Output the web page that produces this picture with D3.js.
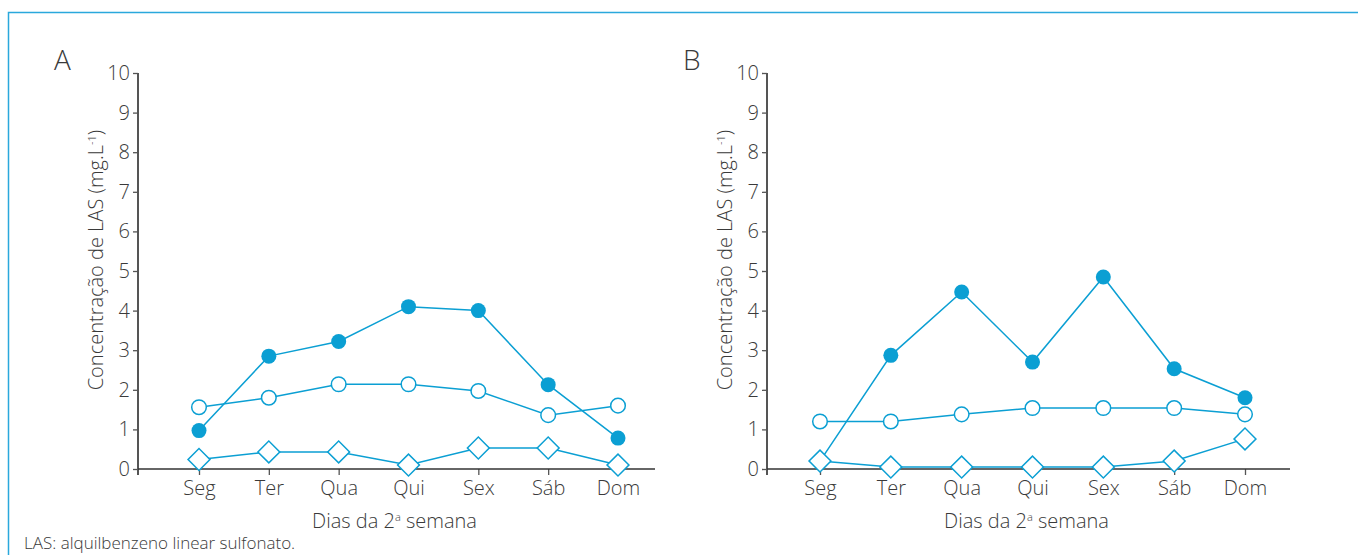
<!DOCTYPE html>
<html>
<head>
<meta charset="utf-8">
<script src="https://cdn.jsdelivr.net/npm/d3@7"></script>
<style>
  html, body { margin: 0; padding: 0; background: #fff; }
  svg { display: block; }
  text { font-family: "Open Sans", Lato, "DejaVu Sans", sans-serif; font-weight: 300; fill: #3a3a3a; }
</style>
</head>
<body>
<svg id="chart" width="1358" height="555"></svg>
<script>
// Days of the second sampling week
const days = ["Seg", "Ter", "Qua", "Qui", "Sex", "Sáb", "Dom"];
const yTicks = [0, 1, 2, 3, 4, 5, 6, 7, 8, 9, 10];

// Panel A: LAS concentration (mg/L)
const aFilled = [0.97, 2.85, 3.22, 4.1, 4.0, 2.13, 0.78];
const aOpen   = [1.56, 1.8, 2.14, 2.14, 1.97, 1.36, 1.6];
const aDiamond = [0.24, 0.43, 0.43, 0.1, 0.53, 0.53, 0.1];

// Panel B: LAS concentration (mg/L)
const bFilled = [0.2, 2.87, 4.47, 2.7, 4.85, 2.53, 1.8];
const bOpen   = [1.2, 1.2, 1.38, 1.54, 1.54, 1.54, 1.38];
const bDiamond = [0.2, 0.05, 0.05, 0.05, 0.05, 0.2, 0.76];

const blue = "#0b9fd3";
const axisColor = "#555";
const svg = d3.select("#chart");

// outer frame
svg.append("path")
  .attr("d", "M8.5,555 L8.5,12.5 L1358,12.5")
  .attr("fill", "none").attr("stroke", "#2aa8dc").attr("stroke-width", 1.5);

const panels = [
  { label: "A", x0: 138, first: 199, last: 618, xEnd: 655, series: [aFilled, aOpen, aDiamond] },
  { label: "B", x0: 767, first: 820, last: 1245, xEnd: 1290, series: [bFilled, bOpen, bDiamond] }
];

const yTop = 73, yBottom = 469;
const y = d3.scaleLinear().domain([0, 10]).range([yBottom, yTop]);

panels.forEach(p => {
  const g = svg.append("g");
  const x = d3.scalePoint().domain(days).range([p.first, p.last]);

  // panel letter
  g.append("text").attr("x", p.x0 - 84).attr("y", 70)
    .style("font-size", "28px").text(p.label);

  // y axis
  const yAxis = g.append("g").attr("transform", `translate(${p.x0},0)`)
    .call(d3.axisLeft(y).tickValues(yTicks).tickSize(5).tickSizeOuter(0).tickPadding(3));
  yAxis.select(".domain").remove();
  yAxis.selectAll(".tick line").attr("stroke", axisColor).attr("stroke-width", 1.3);
  yAxis.selectAll(".tick text").style("font-size", "20px")
    .style("font-family", "'Open Sans', Lato, sans-serif").style("font-weight", 300)
    .attr("fill", "#3a3a3a");
  g.append("line").attr("x1", p.x0).attr("x2", p.x0).attr("y1", yTop).attr("y2", yBottom + 6)
    .attr("stroke", axisColor).attr("stroke-width", 2);

  // x axis
  const xAxis = g.append("g").attr("transform", `translate(0,${yBottom})`)
    .call(d3.axisBottom(x).tickSize(6).tickSizeOuter(0).tickPadding(6));
  xAxis.select(".domain").remove();
  xAxis.selectAll(".tick line").attr("stroke", axisColor).attr("stroke-width", 1.3);
  xAxis.selectAll(".tick text").style("font-size", "20px")
    .style("font-family", "'Open Sans', Lato, sans-serif").style("font-weight", 300)
    .attr("fill", "#3a3a3a");
  g.append("line").attr("x1", p.x0).attr("x2", p.xEnd).attr("y1", yBottom).attr("y2", yBottom)
    .attr("stroke", "#333").attr("stroke-width", 1.6);

  // axis titles
  const yt = g.append("text")
    .attr("transform", `translate(${p.x0 - 35},260) rotate(-90)`)
    .attr("text-anchor", "middle").style("font-size", "20px");
  yt.append("tspan").text("Concentração de LAS (mg.L");
  yt.append("tspan").attr("dy", -7).style("font-size", "11px").text("-1");
  yt.append("tspan").attr("dy", 7).text(")");

  const xt = g.append("text").attr("x", (p.x0 + p.xEnd) / 2 - 2).attr("y", 528)
    .attr("text-anchor", "middle").style("font-size", "20px");
  xt.append("tspan").text("Dias da 2");
  xt.append("tspan").attr("dy", -7).style("font-size", "11px").text("a");
  xt.append("tspan").attr("dy", 7).text(" semana");

  const line = d3.line().x((d, i) => x(days[i])).y(d => y(d));
  const [filled, open, diamond] = p.series;

  // connecting lines
  [filled, open, diamond].forEach(s => {
    g.append("path").datum(s).attr("d", line)
      .attr("fill", "none").attr("stroke", blue).attr("stroke-width", 1.5);
  });

  // filled circles
  g.selectAll(null).data(filled).join("circle")
    .attr("cx", (d, i) => x(days[i])).attr("cy", d => y(d)).attr("r", 7.5)
    .attr("fill", blue);

  // open circles
  g.selectAll(null).data(open).join("circle")
    .attr("cx", (d, i) => x(days[i])).attr("cy", d => y(d)).attr("r", 7.3)
    .attr("fill", "#fff").attr("stroke", blue).attr("stroke-width", 1.5);

  // open diamonds
  const dia = d3.symbol().type(d3.symbolSquare).size(240);
  g.selectAll(null).data(diamond).join("path")
    .attr("d", dia())
    .attr("transform", (d, i) => `translate(${x(days[i])},${y(d)}) rotate(45)`)
    .attr("fill", "#fff").attr("stroke", blue).attr("stroke-width", 1.5);
});

// footnote
svg.append("text").attr("x", 24).attr("y", 549).style("font-size", "17px")
  .text("LAS: alquilbenzeno linear sulfonato.");
</script>
</body>
</html>
